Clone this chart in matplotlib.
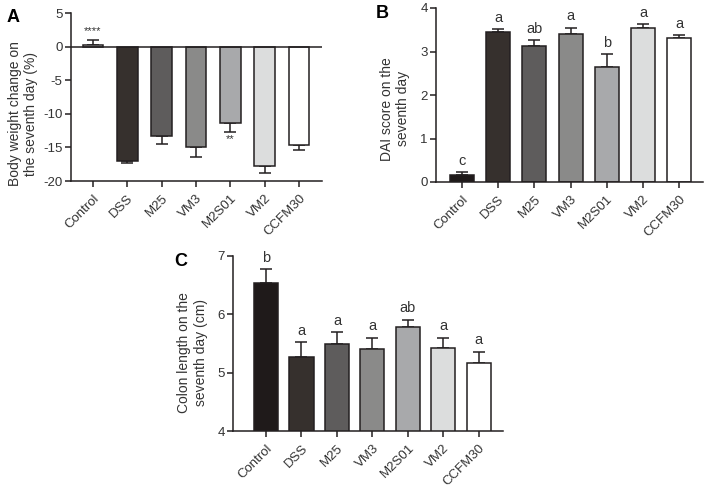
import matplotlib.pyplot as plt
import numpy as np

plt.rcParams['font.family'] = ['Liberation Sans', 'DejaVu Sans']
plt.rcParams['axes.unicode_minus'] = False

groups = ['Control', 'DSS', 'M25', 'VM3', 'M2S01', 'VM2', 'CCFM30']
colors = ['#1f1a1a', '#36302d', '#5e5c5c', '#8a8a89', '#a8a9ab', '#dcdddd', '#ffffff']
colors_a = ['#ffffff', '#36302d', '#5e5c5c', '#8a8a89', '#a8a9ab', '#dcdddd', '#ffffff']

# A: body weight change (%)
weight_mean = [0.25, -17.0, -13.25, -14.9, -11.4, -17.8, -14.6]
weight_sem = [0.75, 0.35, 1.25, 1.6, 1.25, 0.95, 0.8]

# B: DAI score
dai_mean = [0.15, 3.45, 3.12, 3.41, 2.64, 3.54, 3.31]
dai_sem = [0.07, 0.07, 0.15, 0.14, 0.31, 0.09, 0.06]
dai_letters = ['c', 'a', 'ab', 'a', 'b', 'a', 'a']

# C: colon length (cm)
colon_mean = [6.53, 5.27, 5.49, 5.41, 5.79, 5.43, 5.17]
colon_sem = [0.24, 0.26, 0.21, 0.19, 0.12, 0.17, 0.19]
colon_letters = ['b', 'a', 'a', 'a', 'ab', 'a', 'a']

W, H = 708, 487
edge = '#231f20'
txt = '#333333'


def px_axes(fig, left, right, top, bottom):
    return fig.add_axes([left / W, 1 - bottom / H, (right - left) / W, (bottom - top) / H])


def style_axes(ax):
    for s in ['top', 'right']:
        ax.spines[s].set_visible(False)
    for s in ['left', 'bottom']:
        ax.spines[s].set_linewidth(1.1)
        ax.spines[s].set_color(edge)
    ax.tick_params(direction='out', length=4, width=1.1, color=edge, labelsize=9.5,
                   labelcolor=txt, pad=2)
    ax.tick_params(axis='x', pad=4)
    ax.set_xticks(np.arange(len(groups)))
    ax.set_xticklabels(groups, rotation=45, ha='right', rotation_mode='anchor')


def draw_bars(ax, means, sems, cols, width):
    x = np.arange(len(groups))
    means = np.array(means)
    sems = np.array(sems)
    lower = np.where(means < 0, sems, 0)
    upper = np.where(means >= 0, sems, 0)
    ax.bar(x, means, width=width, color=cols, edgecolor=edge, linewidth=1.1, zorder=2)
    ax.errorbar(x, means, yerr=[lower, upper], fmt='none', ecolor=edge,
                elinewidth=1.1, capsize=4.5, capthick=1.1, zorder=1)


fig = plt.figure(figsize=(W / 100, H / 100), dpi=100)

# ---- Panel A ----
axA = px_axes(fig, 71, 322, 13, 181)
draw_bars(axA, weight_mean, weight_sem, colors_a, 0.61)
axA.axhline(0, color=edge, lw=1.1, zorder=3)
axA.set_xlim(-0.64, 6.67)
axA.set_ylim(-20, 5)
axA.set_yticks([5, 0, -5, -10, -15, -20])
style_axes(axA)
axA.set_ylabel('Body weight change on\nthe seventh day (%)', fontsize=10, labelpad=4, color=txt)
axA.yaxis.label.set_y(0.40)
axA.text(0, weight_mean[0] + weight_sem[0] + 0.5, '****', ha='center', va='bottom', fontsize=8, color=txt)
axA.text(4, weight_mean[4] - weight_sem[4] - 0.4, '**', ha='center', va='top', fontsize=8, color=txt)
fig.text(7 / W, 1 - 17 / H, 'A', fontsize=13, fontweight='bold', va='center')

# ---- Panel B ----
axB = px_axes(fig, 436, 703, 8, 182)
draw_bars(axB, dai_mean, dai_sem, colors, 0.66)
axB.set_xlim(-0.72, 6.66)
axB.set_ylim(0, 4)
axB.set_yticks([0, 1, 2, 3, 4])
style_axes(axB)
axB.set_ylabel('DAI score on the\nseventh day', fontsize=10, labelpad=7, color=txt)
axB.yaxis.label.set_y(0.42)
for i, lab in enumerate(dai_letters):
    axB.annotate(lab, (i, dai_mean[i] + dai_sem[i]), xytext=(0, 3), textcoords='offset points',
                 ha='center', va='bottom', fontsize=10.5, color=txt)
fig.text(376 / W, 1 - 14 / H, 'B', fontsize=13, fontweight='bold', va='center')

# ---- Panel C ----
axC = px_axes(fig, 233, 503, 256, 431)
draw_bars(axC, colon_mean, colon_sem, colors, 0.68)
axC.set_xlim(-0.93, 6.68)
axC.set_ylim(4, 7)
axC.set_yticks([4, 5, 6, 7])
style_axes(axC)
axC.set_ylabel('Colon length on the\nseventh day (cm)', fontsize=10, labelpad=7, color=txt)
axC.yaxis.label.set_y(0.446)
for i, lab in enumerate(colon_letters):
    axC.annotate(lab, (i, colon_mean[i] + colon_sem[i]), xytext=(0, 3), textcoords='offset points',
                 ha='center', va='bottom', fontsize=10.5, color=txt)
fig.text(174 / W, 1 - 261 / H, 'C', fontsize=13, fontweight='bold', va='center')

fig.savefig('out.png', dpi=100)
